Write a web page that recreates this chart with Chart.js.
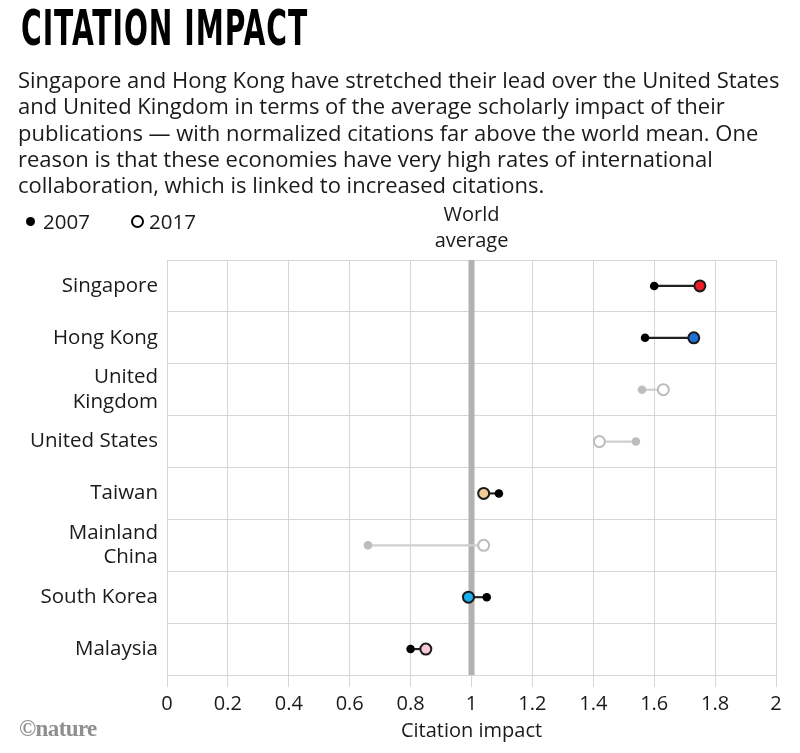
<!DOCTYPE html>
<html>
<head>
<meta charset="utf-8">
<script src="https://cdn.jsdelivr.net/npm/chart.js@4.4.1/dist/chart.umd.min.js"></script>
<style>
  body { margin: 0; background: #fff; }
  #wrap { position: relative; width: 800px; height: 753px; overflow: hidden; font-family: "Open Sans", "Liberation Sans", sans-serif; color: #1a1a1a; }
  #chart { position: absolute; left: 0; top: 0; }
  .title { position: absolute; left: 21px; top: 0px; font-family: "DejaVu Sans Condensed", "DejaVu Sans", sans-serif; font-weight: bold; font-size: 49px; letter-spacing: 1.5px; color: #000; transform: scaleX(0.64); transform-origin: left top; white-space: nowrap; }
  .desc { position: absolute; left: 18px; top: 66px; font-size: 22px; line-height: 26.3px; white-space: nowrap; }
  .legend { position: absolute; top: 207px; font-size: 20.5px; }
  .dot { display: inline-block; width: 9px; height: 9px; border-radius: 50%; background: #000; vertical-align: middle; margin-right: 8px; position: relative; top: -2px; }
  .ring { display: inline-block; width: 9px; height: 9px; border-radius: 50%; border: 2.5px solid #000; vertical-align: middle; margin-right: 5px; position: relative; top: -2px; }
  .logo { position: absolute; left: 19px; top: 716px; font-family: "Liberation Serif", "DejaVu Serif", serif; font-weight: bold; font-size: 23px; color: #8f8f8f; letter-spacing: -0.6px; }
</style>
</head>
<body>
<div id="wrap">
  <canvas id="chart" width="800" height="753"></canvas>
  <div class="title">CITATION IMPACT</div>
  <div class="desc">Singapore and Hong Kong have stretched their lead over the United States<br>and United Kingdom in terms of the average scholarly impact of their<br>publications — with normalized citations far above the world mean. One<br>reason is that these economies have very high rates of international<br>collaboration, which is linked to increased citations.</div>
  <div class="legend" style="left:26px"><span class="dot"></span>2007</div>
  <div class="legend" style="left:131px"><span class="ring"></span>2017</div>
  <div class="logo">©nature</div>
</div>
<script>
// rows, top to bottom
const countries = [['Singapore'], ['Hong Kong'], ['United', 'Kingdom'], ['United States'], ['Taiwan'], ['Mainland', 'China'], ['South Korea'], ['Malaysia']];
const values2007 = [1.60, 1.57, 1.56, 1.54, 1.09, 0.66, 1.05, 0.80];
const values2017 = [1.75, 1.73, 1.63, 1.42, 1.04, 1.04, 0.99, 0.85];
const worldAverage = 1;

// null = greyed-out row
const rowColors = ['#ec1c24', '#1f6fd4', null, null, '#f1c994', null, '#17b2ee', '#f7c8d8'];
const grey = '#bdbdbd';

const fontFamily = '"Open Sans", "Liberation Sans", sans-serif';

const worldAvgPlugin = {
    id: 'worldAvg',
    beforeDatasetsDraw(chart) {
        const ctx = chart.ctx;
        const x = chart.scales.x.getPixelForValue(worldAverage);
        const area = chart.chartArea;
        ctx.save();
        ctx.fillStyle = '#b2b2b2';
        ctx.fillRect(x - 3, area.top, 6, area.bottom - area.top);
        ctx.fillStyle = '#1a1a1a';
        ctx.font = '20px ' + fontFamily;
        ctx.textAlign = 'center';
        ctx.textBaseline = 'middle';
        ctx.fillText('World', x, 215);
        ctx.fillText('average', x, 241);
        ctx.restore();
    }
};

new Chart(document.getElementById('chart').getContext('2d'), {
    type: 'bar',
    data: {
        labels: countries,
        datasets: [
            {
                type: 'scatter',
                label: '2017',
                data: values2017.map((v, i) => ({ x: v, y: i })),
                backgroundColor: rowColors.map(c => c || '#fff'),
                borderColor: rowColors.map(c => c ? '#1a1a1a' : grey),
                borderWidth: 2,
                pointRadius: 5.5,
                pointHoverRadius: 5.5,
                order: 1
            },
            {
                type: 'scatter',
                label: '2007',
                data: values2007.map((v, i) => ({ x: v, y: i })),
                backgroundColor: rowColors.map(c => c ? '#000' : grey),
                borderWidth: 0,
                pointRadius: 4.3,
                pointHoverRadius: 4.3,
                order: 2
            },
            {
                label: 'change',
                data: values2007.map((v, i) => [Math.min(v, values2017[i]), Math.max(v, values2017[i])]),
                backgroundColor: rowColors.map(c => c ? '#222' : '#cfcfcf'),
                barThickness: 1.5,
                order: 3
            }
        ]
    },
    options: {
        indexAxis: 'y',
        responsive: false,
        animation: false,
        layout: { padding: { left: 0, right: 24, top: 260, bottom: 0 } },
        plugins: {
            legend: { display: false },
            tooltip: { enabled: false }
        },
        scales: {
            x: {
                type: 'linear',
                min: 0,
                max: 2,
                afterFit(scale) { scale.height = 78; },
                grid: { color: '#d6d6d6', tickLength: 12, tickColor: '#d6d6d6' },
                border: { display: false },
                ticks: {
                    stepSize: 0.2,
                    padding: 5,
                    autoSkip: false,
                    color: '#1a1a1a',
                    font: { family: fontFamily, size: 20 },
                    callback: v => String(+v.toFixed(1))
                },
                title: {
                    display: true,
                    text: 'Citation impact',
                    color: '#1a1a1a',
                    font: { family: fontFamily, size: 20 },
                    padding: { top: 0, bottom: 10 }
                }
            },
            y: {
                type: 'category',
                offset: true,
                afterFit(scale) { scale.width = 167; },
                grid: { color: '#d6d6d6', offset: true, drawTicks: false },
                border: { display: false },
                ticks: {
                    padding: 9,
                    autoSkip: false,
                    color: '#1a1a1a',
                    font: { family: fontFamily, size: 20.5 }
                }
            }
        }
    },
    plugins: [worldAvgPlugin]
});
</script>
</body>
</html>
